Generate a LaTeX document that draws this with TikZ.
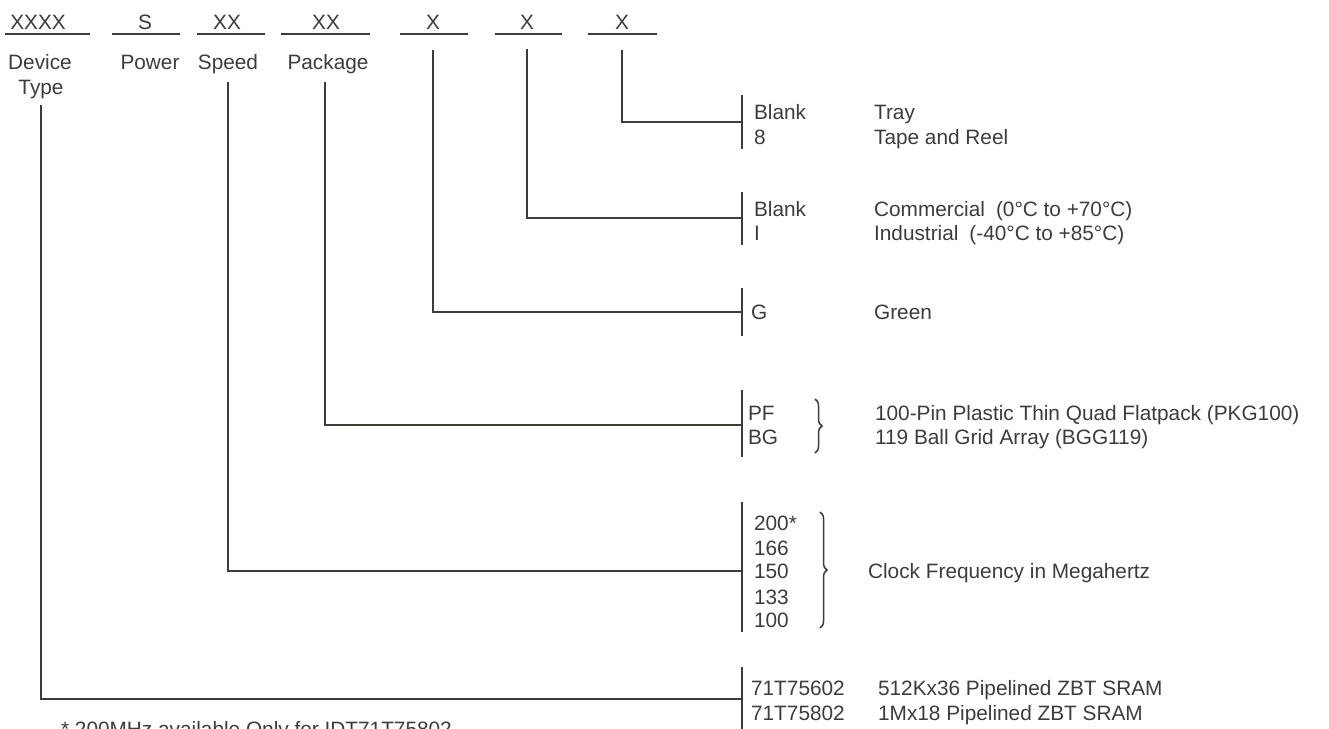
\documentclass[tikz,border=0pt]{standalone}
\usepackage{fontspec}
\setmainfont{Liberation Sans}
\usetikzlibrary{positioning,decorations.pathreplacing}
\definecolor{ink}{HTML}{3C3C38}

\begin{document}
\begin{tikzpicture}[
  x=1pt, y=-1pt,
  color=ink, line width=2.2pt,
  font=\fontsize{20.8}{25}\selectfont,
  txt/.style={inner sep=0pt, text height=14.9pt, text depth=0pt},
  field/.style={txt},
  key/.style={txt, anchor=west},
  desc/.style={txt, anchor=west},
  brace/.style={decorate, decoration={brace, amplitude=7pt}, line width=1.5pt}
]
\useasboundingbox (0,0) rectangle (1329,728);

% Part number fields
\node[field] (fdev) at (38,22) {XXXX};
\node[field] (fpow) at (145,22) {S};
\node[field] (fspd) at (227,22) {XX};
\node[field] (fpkg) at (326,22) {XX};
\node[field] (fgrn) at (433,22) {X};
\node[field] (ftmp) at (527,22) {X};
\node[field] (fpack) at (622,22) {X};
\draw (5,34) -- (90,34);
\draw (112,34) -- (180,34);
\draw (197,34) -- (265,34);
\draw (281,34) -- (370,34);
\draw (400,34) -- (468,34);
\draw (495,34) -- (562,34);
\draw (588,34) -- (657,34);

% Field names
\node[field] (devname) at (40,62) {Device};
\node[field] (devtype) at (41,87) {Type};
\node[field] (pow) at (150,62) {Power};
\node[field] (spd) at (228,62) {Speed};
\node[field] (pkg) at (328,62) {Package};

% Option bars
\coordinate (packbar) at (742,122);
\coordinate (tmpbar) at (742,218);
\coordinate (grnbar) at (742,312);
\coordinate (pkgbar) at (742,425);
\coordinate (spdbar) at (742,571);
\coordinate (devbar) at (742,699);
\draw (742,95) -- (742,149);
\draw (742,192) -- (742,245);
\draw (742,288) -- (742,336);
\draw (742,390) -- (742,457);
\draw (742,502) -- (742,632);
\draw (742,667) -- (742,740);

% Packing
\node[key] (pack1) at (753,112) {Blank};
\node[key] (pack2) at (753,137) {8};
\node[desc] (tray) at (873,112) {Tray};
\node[desc] (reel) at (873,137) {Tape and Reel};

% Temperature
\node[key] (tmp1) at (753,209) {Blank};
\node[key] (tmp2) at (753,233) {I};
\node[desc] (comm) at (873,209) {Commercial\hspace{11pt}(0°C to +70°C)};
\node[desc] (ind) at (873,233) {Industrial\hspace{11pt}(-40°C to +85°C)};

% Green
\node[key] (grn1) at (750,312) {G};
\node[desc] (green) at (873,312) {Green};

% Package
\node[key] (pkg1) at (747,413) {PF};
\node[key] (pkg2) at (747,437) {BG};
\draw[brace] (815,399) -- (815,453);
\node[desc] (tqfp) at (874,413) {100-Pin Plastic Thin Quad Flatpack (PKG100)};
\node[desc] (bga) at (874,437) {119 Ball Grid Array (BGG119)};

% Speed
\node[key] (spd1) at (753,523) {200*};
\node[key] (spd2) at (753,548) {166};
\node[key] (spd3) at (753,571) {150};
\node[key] (spd4) at (753,597) {133};
\node[key] (spd5) at (753,620) {100};
\draw[brace] (820,512) -- (820,628);
\node[desc] (clock) at (867,571) {Clock Frequency in Megahertz};

% Device type
\node[key] (dev1) at (750,688) {71T75602};
\node[key] (dev2) at (750,713) {71T75802};
\node[desc] (sram1) at (877,688) {512Kx36 Pipelined ZBT SRAM};
\node[desc] (sram2) at (877,713) {1Mx18 Pipelined ZBT SRAM};

% Footnote
\node[inner sep=0pt, anchor=base west] (note) at (60,736) {* 200MHz available Only for IDT71T75802};

% Connections
\draw ([yshift=-19pt]fpack.south) |- (packbar);
\draw ([yshift=-18pt]ftmp.south) |- (tmpbar);
\draw ([yshift=-19pt]fgrn.south) |- (grnbar);
\draw ([xshift=-3pt,yshift=-11pt]pkg.south) |- (pkgbar);
\draw ([yshift=-11pt]spd.south) |- (spdbar);
\draw ([yshift=-9pt]devtype.south) |- (devbar);
\end{tikzpicture}
\end{document}
